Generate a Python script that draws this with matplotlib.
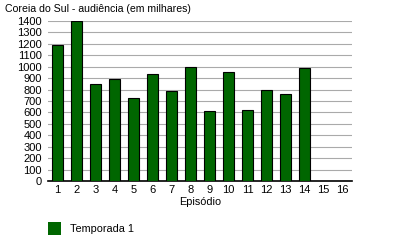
import numpy as np
import matplotlib
matplotlib.use('Agg')
import matplotlib.pyplot as plt
from matplotlib.patches import Rectangle

plt.rcParams['font.family'] = ['Liberation Sans', 'DejaVu Sans']

episodes = list(range(1, 17))
viewers = [1190, 1400, 847, 893, 723, 935, 785, 1000, 612, 954, 619, 796, 758, 986]
yticks = list(range(0, 1500, 100))
title = 'Coreia do Sul - audiência (em milhares)'
series_name = 'Temporada 1'
green = '#006600'

fig = plt.figure(figsize=(4, 2.5), dpi=100)
ax = fig.add_axes([0.12, 0.276, 0.76, 0.64])

x = np.arange(1, len(viewers) + 1)
ax.bar(x, viewers, width=0.58, color=green, edgecolor='black', linewidth=0.8, zorder=3)

ax.set_xlim(0.5, 16.5)
ax.set_ylim(0, 1400)
ax.set_yticks(yticks)
ax.set_xticks(episodes)
ax.yaxis.grid(True, color='#aaaaaa', linewidth=0.8, zorder=0)
ax.tick_params(length=0, labelsize=8)
ax.tick_params(axis='y', pad=4.5)
ax.tick_params(axis='x', pad=3)
for s in ['top', 'right', 'left']:
    ax.spines[s].set_visible(False)
ax.spines['bottom'].set_linewidth(1.2)
ax.set_xlabel('Episódio', fontsize=7.8, labelpad=1)

fig.text(0.012, 0.965, title, fontsize=7.6, va='center', ha='left')

fig.patches.append(Rectangle((0.12, 0.06), 0.033, 0.052, transform=fig.transFigure,
                             facecolor=green, edgecolor='none'))
fig.text(0.175, 0.083, series_name, fontsize=7.8, va='center', ha='left')

fig.savefig('out.png', dpi=100)
